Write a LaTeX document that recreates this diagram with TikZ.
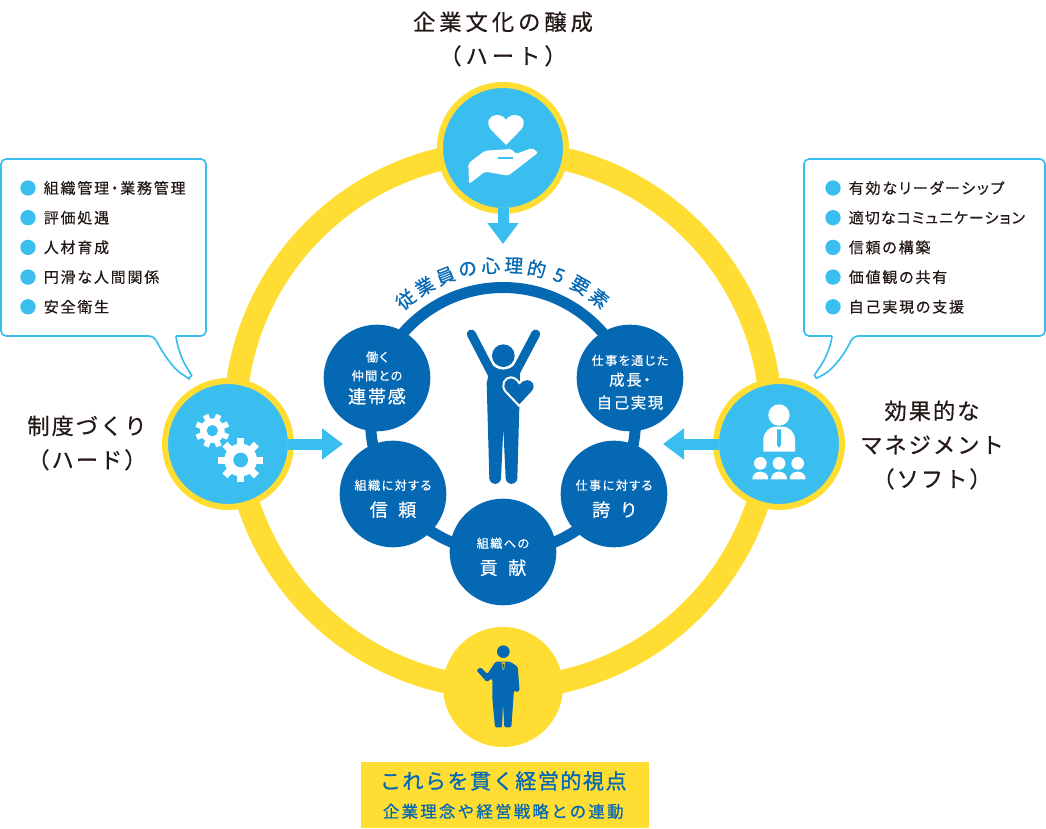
\documentclass[tikz,border=0pt]{standalone}
\usepackage{fontspec}
\usepackage{xcolor}
\usepackage{tikz}
\usetikzlibrary{arrows.meta, positioning, calc}
\setmainfont{Noto Sans CJK JP}
\newfontfamily\jptitle{Noto Sans CJK JP}[LetterSpace=9, FakeBold=0.5]
\newfontfamily\jptop{Noto Sans CJK JP}[LetterSpace=18, FakeBold=0.5]
\newfontfamily\jpitem{Noto Sans CJK JP}[RawFeature=+palt, LetterSpace=12, FakeBold=0.4]
\newfontfamily\jptight{Noto Sans CJK JP}[RawFeature=+palt, LetterSpace=7, FakeBold=0.4]
\newfontfamily\jpsmall{Noto Sans CJK JP}[RawFeature=+palt, LetterSpace=11, FakeBold=0.4]
\newfontfamily\jpbig{Noto Sans CJK JP}[RawFeature=+palt, LetterSpace=10, FakeBold=0.5]
\newfontfamily\jpstrong{Noto Sans CJK JP}[LetterSpace=7, FakeBold=0.9]
\newfontfamily\jpsub{Noto Sans CJK JP}[LetterSpace=14, FakeBold=0.9]
\newfontfamily\jparc{Noto Sans CJK JP}[FakeBold=0.9]
\definecolor{ringyellow}{HTML}{FFDD33}
\definecolor{skyblue}{HTML}{3ABEF0}
\definecolor{deepblue}{HTML}{0568B3}
\definecolor{inkblack}{HTML}{231815}
\newcommand{\smallfac}{\fontsize{10.4}{16}\selectfont\jpsmall}
\newcommand{\bigfac}{\fontsize{15.4}{16}\selectfont\jpbig}
\newcommand{\midfac}{\fontsize{13.2}{16}\selectfont\jpbig}
\tikzset{
    hubnode/.style={circle, draw=ringyellow, line width=1.8mm, fill=skyblue,
                    minimum size=37.8mm, inner sep=0pt, outer sep=0pt},
    factor/.style={circle, fill=deepblue, text=white, minimum size=32mm,
                   inner sep=0pt, align=center, font=\smallfac},
    bubble/.style={draw=skyblue, line width=0.5mm, fill=white, rounded corners=1.5mm},
    dotnode/.style={circle, fill=skyblue, minimum size=4.6mm, inner sep=0pt},
    itemtext/.style={inner sep=0pt, anchor=west, text=inkblack,
                     font=\fontsize{12.8}{16}\selectfont\jpitem},
    sidelabel/.style={align=center, inner sep=0pt, text=inkblack,
                      font=\fontsize{19}{29}\selectfont\jptitle},
    arcchar/.style={inner sep=0pt, text=deepblue, font=\fontsize{16}{18}\selectfont\jparc},
    inflow/.style={-{Triangle[length=6.3mm,width=9mm]}, line width=3.3mm, draw=skyblue},
    iconwhite/.style={fill=white, draw=none},
}

\begin{document}
\begin{tikzpicture}[x=0.3mm, y=0.3mm]
\useasboundingbox (0,0) rectangle (1046,-829);

% ── Rings ─────────────────────────────────────────────────────────────
\coordinate (mid) at (503,-420);
\draw[ringyellow, line width=6.9mm] (mid) circle (268);
\draw[deepblue, line width=3.3mm] (mid) circle (132.5);

% ── Speech bubbles ────────────────────────────────────────────────────
\draw[bubble] (176,-336) -- (206,-336) -- (206,-159) -- (1,-159) -- (1,-336) -- (154,-336)
    .. controls (163,-354) and (174,-369) .. (185,-376)
    .. controls (188,-378) and (192,-376) .. (189,-371)
    .. controls (182,-360) and (177,-346) .. (176,-336);
\draw[bubble] (832,-336) -- (804,-336) -- (804,-159) -- (1045,-159) -- (1045,-336) -- (853,-336)
    .. controls (845,-354) and (833,-369) .. (821,-376)
    .. controls (817,-378) and (814,-376) .. (817,-371)
    .. controls (825,-360) and (831,-346) .. (832,-336);

\foreach \txt [count=\i] in {組織管理・業務管理,評価処遇,人材育成,円滑な人間関係,安全衛生} {
    \node[dotnode] (ldot\i) at (28,-188-29.7*\i+29.7) {};
    \node[itemtext, right=2.3mm of ldot\i] (litem\i) {\txt};
}
\foreach \txt [count=\i] in {有効なリーダーシップ,{\jptight 適切なコミュニケーション},信頼の構築,価値観の共有,自己実現の支援} {
    \node[dotnode] (rdot\i) at (833,-188-29.7*\i+29.7) {};
    \node[itemtext, right=2.3mm of rdot\i] (ritem\i) {\txt};
}

% ── Outer hubs ────────────────────────────────────────────────────────
\node[hubnode] (hearthub) at (503,-148) {};
\node[hubnode] (gearhub)  at (228,-444) {};
\node[hubnode] (leadhub)  at (779,-444) {};
\node[circle, fill=ringyellow, minimum size=36mm, inner sep=0pt] (bosshub) at (503,-687) {};

% ── Labels ────────────────────────────────────────────────────────────
\node[sidelabel, font=\fontsize{19}{29}\selectfont\jptop] (hearttext) at (503,-39) {企業文化の醸成\\（ハート）};
\node[sidelabel] (geartext) at (87,-443) {制度づくり\\（ハード）};
\node[sidelabel] (leadtext) at (932,-445) {効果的な\\マネジメント\\（ソフト）};

% ── Arrows ────────────────────────────────────────────────────────────
\coordinate (toptip)   at (503,-244);
\coordinate (lefttip)  at (343,-444);
\coordinate (righttip) at (663,-444);
\draw[inflow, shorten <=-0.9mm] (hearthub.south) -- (toptip);
\draw[inflow, shorten <=-0.9mm] (gearhub.east) -- (lefttip);
\draw[inflow, shorten <=-0.9mm] (leadhub.west) -- (righttip);

% ── Factors ───────────────────────────────────────────────────────────
\node[factor] (bond)    at (377,-378) {働く\\仲間との\\[3.5pt]{\bigfac 連帯感}};
\node[factor] (trust)   at (393,-494) {\rule{0pt}{17pt}組織に対する\\[6.7pt]{\bigfac 信\kern9pt 頼}};
\node[factor] (give)    at (503,-552) {\rule{0pt}{17pt}組織への\\[6.7pt]{\bigfac 貢\kern9pt 献}};
\node[factor] (pride)   at (614,-494) {\rule{0pt}{17pt}仕事に対する\\[6.7pt]{\bigfac 誇\kern9pt り}};
\node[factor] (growth)  at (630,-378) {\rule{0pt}{16pt}仕事を通じた\\[1.5pt]{\midfac 成長・}\\[3.5pt]{\midfac 自己実現}};

% ── Arc title ─────────────────────────────────────────────────────────
\foreach \ch [count=\i] in {従,業,員,の,心,理,的,5,要,素} {
    \pgfmathsetmacro{\ang}{-39+8.6*(\i-1)}
    \node[arcchar, rotate=-\ang] (arc\i) at ($(mid)+(90-\ang:155)$) {\ch};
}

% ── Standing figure ───────────────────────────────────────────────────
\begin{scope}[shift={(310,-320)}, x=0.1mm, y=-0.1mm]
    \fill[deepblue] (580,107) circle (34);
    \draw[deepblue, line width=2.7mm, line cap=round] (484,42) -- (548,165);
    \draw[deepblue, line width=2.7mm, line cap=round] (677,42) -- (612,165);
    \fill[deepblue] (543,130) .. controls (560,155) and (600,155) .. (617,130)
        -- (630,165) -- (628,262) -- (622,474) -- (587,474) -- (580,325)
        -- (573,474) -- (538,474) -- (530,190) -- cycle;
    \fill[deepblue] (555.5,474) circle (17.5) (604.5,474) circle (17.5);
    \draw[deepblue, fill=deepblue, draw=white, line width=0.6mm, line join=round]
        (628,258) -- (587,215) .. controls (570,195) and (585,172) .. (602,172)
        .. controls (615,172) and (625,183) .. (628,190)
        .. controls (632,183) and (642,177) .. (652,177)
        .. controls (670,177) and (682,197) .. (668,215) -- cycle;
\end{scope}

% ── Hand and heart ────────────────────────────────────────────────────
\begin{scope}[shift={(400,-80)}, x=0.1mm, y=-0.1mm]
    \fill[iconwhite] (318,195) -- (272,148) .. controls (255,125) and (270,105) .. (290,105)
        .. controls (305,105) and (315,113) .. (318,120)
        .. controls (321,113) and (331,105) .. (346,105)
        .. controls (366,105) and (381,125) .. (364,148) -- cycle;
    \fill[iconwhite, rounded corners=0.6mm] (205,250) -- (255,212) -- (335,207) -- (347,222)
        -- (397,204) -- (414,218) -- (325,287) -- (255,275) -- (207,312) -- cycle;
    \draw[skyblue, line width=0.6mm] (295,233) -- (340,233);
\end{scope}

% ── Gears ─────────────────────────────────────────────────────────────
\begin{scope}[shift={(0,-150)}, x=0.1mm, y=-0.1mm]
    \foreach \a in {0,45,...,315} {
        \draw[white, line width=1.7mm] (637,842) ++(\a+22:30) -- ++(\a+22:21);
        \draw[white, line width=2.1mm] (722,930) ++(\a:40) -- ++(\a:27);
    }
    \fill[iconwhite] (637,842) circle (37) (722,930) circle (49);
    \fill[skyblue] (637,842) circle (17) (722,930) circle (22);
\end{scope}

% ── Presenter and audience ────────────────────────────────────────────
\begin{scope}[shift={(660,-150)}, x=0.1mm, y=-0.1mm]
    \fill[iconwhite] (357,795) circle (32);
    \fill[iconwhite] (310,905) -- (310,870) .. controls (310,845) and (330,830) .. (345,830)
        -- (370,830) .. controls (385,830) and (405,845) .. (405,870) -- (405,905) -- cycle;
    \fill[skyblue] (351,838) -- (363,838) -- (363,885) -- (357,893) -- (351,885) -- cycle;
    \foreach \cx in {301,357,413} {
        \fill[iconwhite] (\cx,940) circle (19);
        \fill[iconwhite] (\cx-24,988) .. controls (\cx-24,972) and (\cx-12,965) .. (\cx,965)
            .. controls (\cx+12,965) and (\cx+24,972) .. (\cx+24,988) -- cycle;
    }
\end{scope}

% ── Manager ───────────────────────────────────────────────────────────
\begin{scope}[shift={(350,-620)}, x=0.1mm, y=-0.1mm]
    \fill[deepblue] (460,95) circle (19);
    \fill[deepblue, rounded corners=0.4mm] (437,125) -- (412,162) -- (392,142) -- (379,150)
        -- (410,186) -- (427,175) -- (427,235) -- (435,322) -- (456,322) -- (459,250)
        -- (463,322) -- (484,322) -- (492,210) -- (497,217) -- (509,212) -- (503,140) -- (480,125) -- cycle;
    \fill[ringyellow] (455,127) -- (465,127) -- (463,145) -- (460,150) -- (457,145) -- cycle;
    \fill[deepblue] (457,131) -- (463,131) -- (462,143) -- (460,147) -- (458,143) -- cycle;
\end{scope}

% ── Bottom caption ────────────────────────────────────────────────────
\node[fill=ringyellow, minimum width=86.4mm, minimum height=19.8mm, inner sep=0pt,
      text=deepblue, align=center, font=\fontsize{14}{24.5}\selectfont\jpsub] (caption) at (505,-795)
    {\hspace{-3pt}{\fontsize{18}{24.5}\selectfont\jpstrong これらを貫く経営的視点}\\\hspace{-3pt}企業理念や経営戦略との連動};
\end{tikzpicture}
\end{document}
